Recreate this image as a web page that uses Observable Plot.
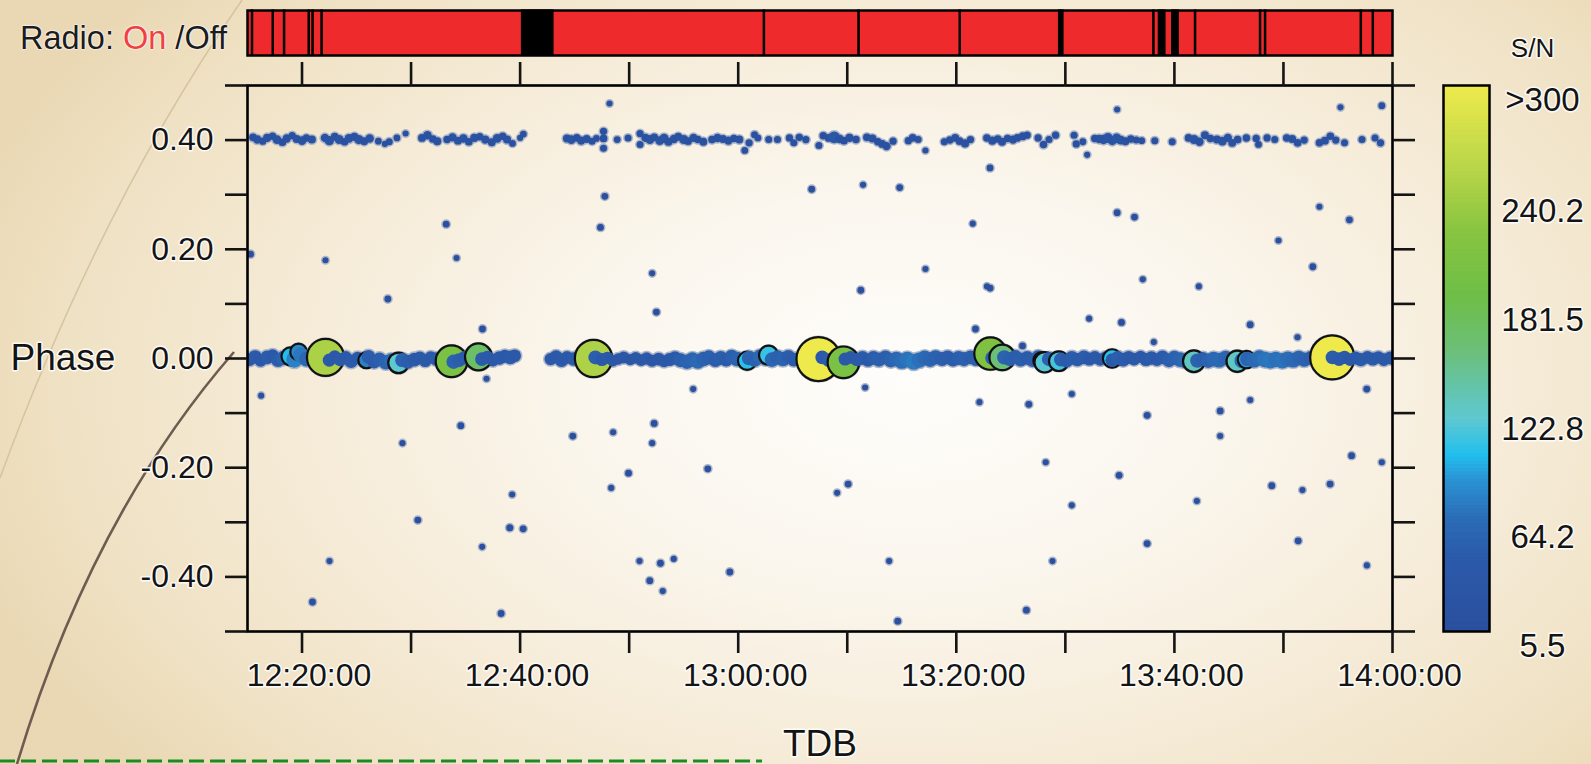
<!DOCTYPE html>
<html><head><meta charset="utf-8">
<script src="https://cdn.jsdelivr.net/npm/d3@7"></script>
<script src="https://cdn.jsdelivr.net/npm/@observablehq/plot@0.6"></script>
<style>
html,body{margin:0;padding:0;}
body{width:1591px;height:764px;overflow:hidden;position:relative;
 background: radial-gradient(ellipse 62% 80% at 57% 50%, #fefdfa 0%, #fbf7ef 30%, #f6ecd9 60%, #efe1c3 86%, #ead8b4 100%);
 font-family:"Liberation Sans", Arial, sans-serif;}
.layer{position:absolute;top:0;}
svg text{paint-order:stroke;stroke:rgba(255,255,255,0.85);stroke-width:3px;stroke-linejoin:round;}
#radioLabel{position:absolute;left:20px;top:20px;font-size:32.5px;line-height:37px;color:#1c1c1c;white-space:pre;
 text-shadow:0 0 2px #fff,0 0 2px #fff,0 0 1px #fff;}
#radioLabel span{color:#f04040;}
</style></head>
<body>
<svg class="layer" style="left:0" width="1591" height="764">
  <path d="M 242 0 Q 100 205 0 478" fill="none" stroke="#d6c39f" stroke-width="1.5"/>
  <path d="M 234 352 Q 92 515 17 764" fill="none" stroke="#6e5c50" stroke-width="2.6"/>
  <line x1="0" y1="761" x2="762" y2="761" stroke="#1d8b24" stroke-width="3.2" stroke-dasharray="15 6"/>
</svg>
<div id="radioLabel">Radio: <span>On</span> /Off</div>
<div id="radio" class="layer" style="left:0"></div>
<div id="main" class="layer" style="left:0"></div>
<div id="cbar" class="layer" style="left:1400px"></div>
<script>
// ---- data (time in minutes after 12:00 TDB, phase, S/N) ----
const radioSpan = [15, 120];
const radioOff = [[15.40,15.52],[17.30,17.42],[18.34,18.46],[20.60,20.72],[20.95,21.07],[21.78,21.90],
  [40.17,43.06],[62.34,62.46],[71.02,71.14],[80.30,80.42],[89.42,89.83],[98.06,98.18],[98.57,99.18],
  [99.79,100.40],[101.88,102.00],[107.84,107.96],[108.30,108.42],[117.08,117.20],[118.18,118.30]];

const upperBand = [
[15.5,0.405,14],[15.9,0.401,18],[16.4,0.398,12],[16.8,0.404,16],[17.3,0.407,13],[17.7,0.401,19],[18.2,0.396,14],[18.6,0.403,17],[19.1,0.408,12],[19.5,0.402,15],[20.0,0.399,18],[20.4,0.404,13],[20.9,0.401,16],
[22.1,0.404,17],[22.5,0.399,22],[23.0,0.406,15],[23.4,0.401,20],[23.9,0.397,14],[24.3,0.403,19],[24.8,0.406,16],[25.2,0.401,21],[25.7,0.398,15],[26.2,0.403,18],
[27.0,0.398,10],[27.6,0.393,9],[28.0,0.397,11],[28.7,0.404,10],[29.5,0.412,9],
[31.0,0.404,15],[31.5,0.409,18],[32.0,0.402,14],[32.4,0.398,16],
[33.3,0.401,13],[33.8,0.405,17],[34.3,0.399,15],[34.8,0.403,18],[35.3,0.397,14],[35.8,0.404,16],[36.3,0.406,13],[36.8,0.401,17],
[37.4,0.396,15],[37.9,0.403,19],[38.4,0.407,14],[38.8,0.401,16],
[39.3,0.394,10],[40.0,0.404,9],[40.3,0.411,10],
[44.3,0.403,16],[44.7,0.401,19],[45.2,0.404,14],[45.6,0.399,17],[46.1,0.402,15],[46.6,0.398,11],[47.0,0.403,10],[47.65,0.416,12],[47.65,0.403,14],[47.65,0.385,11],[48.9,0.401,10],[49.9,0.404,11],[51.0,0.412,12],[51.0,0.392,11],[51.5,0.404,17],[51.9,0.401,20],[52.3,0.405,15],[52.8,0.399,19],[53.2,0.403,22],[53.6,0.397,16],[54.1,0.402,18],[54.5,0.406,15],[55.0,0.401,20],[55.4,0.398,14],[55.9,0.404,17],[56.3,0.401,13],[56.8,0.397,15],
[57.6,0.401,14],[58.1,0.404,18],[58.6,0.402,15],[59.1,0.399,17],[59.6,0.403,13],[60.1,0.401,15],[60.6,0.381,10],
[61.0,0.395,12],[61.5,0.410,11],[61.8,0.404,10],[62.8,0.401,11],[63.6,0.401,11],
[64.7,0.404,12],[65.1,0.395,11],[65.6,0.405,13],[66.2,0.401,12],
[67.4,0.390,11],[67.8,0.408,13],[68.3,0.404,15],[68.8,0.405,35],[69.3,0.402,18],[69.7,0.399,14],[70.2,0.404,16],[70.8,0.401,13],
[71.8,0.405,14],[72.3,0.403,16],[72.8,0.397,13],[73.2,0.393,15],[73.6,0.389,17],[74.2,0.398,12],
[75.6,0.399,12],[76.0,0.404,14],[76.5,0.401,11],[77.17,0.381,9],
[78.9,0.397,11],[79.4,0.400,13],[79.9,0.404,15],[80.3,0.398,14],[80.8,0.394,16],[81.3,0.401,12],
[82.8,0.404,13],[83.3,0.399,16],[83.8,0.402,14],[84.2,0.397,15],[84.7,0.403,13],[85.2,0.401,17],[85.6,0.404,14],[86.1,0.407,16],[86.5,0.409,12],
[87.5,0.404,12],[88.0,0.392,13],[88.5,0.401,11],[89.1,0.409,12],
[90.8,0.409,11],[91.0,0.393,12],[91.6,0.397,10],[92.0,0.373,9],
[92.7,0.403,13],[93.1,0.402,18],[93.5,0.401,22],[93.9,0.404,25],[94.3,0.399,20],[94.7,0.403,24],[95.1,0.400,19],[95.5,0.398,16],[96.0,0.402,14],[96.5,0.400,11],[97.0,0.399,10],[98.2,0.399,11],
[99.8,0.397,11],
[101.3,0.404,14],[101.8,0.401,20],[102.3,0.397,17],[102.8,0.409,15],[103.3,0.403,13],
[103.9,0.401,16],[104.4,0.398,19],[104.9,0.404,17],[105.3,0.395,15],[105.8,0.401,14],[106.6,0.404,13],
[107.5,0.403,12],[107.71,0.392,10],[108.5,0.404,12],[109.2,0.401,11],
[110.3,0.404,13],[110.8,0.402,15],[111.3,0.395,14],[111.9,0.400,12],
[113.3,0.395,13],[113.8,0.399,15],[114.3,0.407,14],[114.8,0.400,12],[115.6,0.395,11],
[117.2,0.401,11],[118.4,0.404,11],[118.9,0.395,12]];

const mainBand = [
[15.2,-0.002,40],[15.7,0.003,44],[16.2,-0.004,38],[16.8,0.002,46],[17.3,0.005,42],[17.8,-0.003,48],[18.3,0.001,55],[18.8,0.004,68],[19.3,-0.002,78],[19.9,0.006,72],
[20.4,-0.001,60],[20.9,0.003,52],[21.4,-0.004,45],[21.9,0.001,40],[22.5,-0.003,42],[23.0,0.004,38],[23.5,-0.002,44],[24.0,0.002,40],[24.5,-0.005,46],[25.1,0.001,39],
[25.6,-0.003,42],[26.1,0.003,48],[26.6,-0.006,44],[27.1,-0.002,50],[27.7,-0.007,56],[28.2,-0.004,62],[28.7,-0.008,58],[29.2,-0.003,54],[29.7,-0.006,48],[30.3,-0.002,45],
[30.8,0.001,42],[31.3,-0.004,40],[31.8,0.002,38],[32.3,-0.001,44],[32.9,-0.005,48],[33.4,-0.002,52],[33.9,-0.006,55],[34.4,-0.003,50],[34.9,0.001,46],[35.5,-0.002,48],
[36.0,0.003,52],[36.5,-0.001,47],[37.0,0.002,44],[37.5,-0.003,40],[38.1,0.001,45],[38.6,0.004,42],[39.1,0.002,46],[39.5,0.005,40],
[42.8,-0.001,38],[43.3,0.003,42],[43.8,-0.003,45],[44.3,0.002,40],[44.9,-0.001,44],[45.4,0.004,39],[45.9,0.001,43],[46.4,-0.003,47],[46.9,0.002,50],[47.5,-0.002,42],
[48.0,0.001,38],[48.5,-0.004,35],[49.0,-0.001,33],[49.5,0.002,36],[50.1,-0.002,32],[50.6,0.001,35],[51.1,-0.003,34],[51.6,0.000,38],[52.1,-0.004,36],[52.7,-0.001,40],
[53.2,-0.005,37],[53.7,-0.002,42],[54.2,0.001,45],[54.7,-0.003,50],[55.3,-0.006,55],[55.8,-0.002,58],[56.3,-0.005,62],[56.8,-0.001,56],[57.3,0.002,52],[57.9,-0.003,48],
[58.4,0.001,50],[58.9,-0.002,46],[59.4,0.003,52],[59.9,-0.001,55],[60.5,-0.004,60],[61.0,0.001,58],[61.5,-0.002,54],[62.0,0.003,60],[62.5,0.001,64],[63.1,-0.002,58],
[63.6,0.002,52],[64.1,-0.001,55],[64.6,0.003,48],[65.1,-0.002,45],[65.7,0.001,50],[66.2,-0.003,47],[66.7,0.002,44],[67.2,-0.001,42],[67.7,0.002,45],[68.3,-0.003,48],
[68.8,0.001,44],[69.3,-0.004,46],[69.8,-0.001,42],[70.3,0.002,40],[70.9,-0.002,44],[71.4,0.001,46],[71.9,-0.003,43],[72.4,0.001,48],[72.9,-0.002,52],[73.5,0.002,50],
[74.0,-0.003,56],[74.5,-0.001,60],[75.0,-0.005,66],[75.5,-0.002,70],[76.1,-0.006,74],[76.6,-0.003,68],[77.1,0.001,62],[77.6,-0.002,58],[78.1,0.002,54],[78.7,-0.001,50],
[79.2,0.002,48],[79.7,-0.002,46],[80.2,0.001,50],[80.7,-0.001,52],[81.3,0.002,48],[81.8,-0.001,50],[82.3,0.002,54],[82.8,-0.002,56],[83.3,0.001,52],[83.9,-0.003,58],
[84.4,0.002,55],[84.9,-0.001,52],[85.4,0.003,48],[85.9,-0.002,50],[86.5,0.001,46],[87.0,-0.003,48],[87.5,0.002,52],[88.0,-0.004,50],[88.5,-0.001,54],[89.1,-0.005,52],
[89.6,-0.002,50],[90.1,-0.004,46],[90.6,0.001,48],[91.1,-0.002,44],[91.7,0.002,46],[92.2,-0.001,42],[92.7,0.002,40],[93.2,-0.002,38],[93.7,0.001,42],[94.3,-0.003,45],
[94.8,0.001,50],[95.3,-0.002,46],[95.8,0.002,42],[96.3,-0.001,40],[96.9,0.003,38],[97.4,-0.002,42],[97.9,0.001,44],[98.4,-0.002,40],[98.9,0.002,46],[99.5,-0.003,50],
[100.0,0.001,54],[100.5,-0.002,58],[101.0,-0.004,62],[101.5,-0.001,58],[102.1,-0.004,54],[102.6,-0.001,50],[103.1,-0.004,56],[103.6,-0.001,60],[104.1,-0.003,62],[104.7,0.001,58],
[105.2,-0.003,55],[105.7,-0.001,60],[106.2,-0.004,64],[106.7,-0.001,58],[107.3,-0.003,62],[107.8,0.001,66],[108.3,-0.002,70],[108.8,-0.004,72],[109.3,-0.002,68],[109.9,-0.004,70],
[110.4,-0.001,66],[110.9,-0.003,62],[111.4,0.001,58],[111.9,-0.002,54],[112.5,0.001,50],[113.0,-0.002,48],[113.5,0.001,46],[114.0,-0.001,44],[114.5,0.002,48],[115.1,-0.001,46],
[115.6,0.002,44],[116.1,-0.002,40],[116.6,0.001,42],[117.1,-0.002,44],[117.7,0.002,40],[118.2,-0.001,42],[118.7,0.002,38],[119.2,-0.002,40],[119.8,0.001,42]];

const strongPulses = [
[18.94,0.004,100],[19.68,0.012,82],[22.15,0.002,246],[25.91,-0.003,78],[28.85,-0.008,120],[33.71,-0.005,205],
[36.18,0.003,168],[46.73,0.000,248],[60.82,-0.004,103],[62.78,0.006,108],[67.36,-0.001,330],[69.65,-0.007,205],
[83.13,0.009,210],[84.21,0.002,158],[87.85,-0.004,90],[88.10,-0.007,118],[89.40,-0.005,112],[94.29,0.000,104],
[101.78,-0.005,128],[105.76,-0.005,126],[106.61,-0.002,92],[114.47,0.002,330]];

const scatterPoints = [
[15.28,0.191,10],[22.15,0.180,9],[33.22,0.246,10],[34.17,0.184,9],[27.87,0.109,10],[16.25,-0.068,9],[34.56,-0.123,10],[29.21,-0.155,9],
[30.62,-0.296,10],[22.52,-0.371,9],[20.96,-0.446,10],[36.55,0.054,10],[36.92,-0.037,9],[48.20,0.467,9],[47.77,0.297,10],[47.37,0.240,10],
[52.11,0.156,9],[52.50,0.085,10],[55.87,-0.056,9],[44.83,-0.142,10],[48.53,-0.135,9],[52.29,-0.119,10],[52.11,-0.155,9],[49.94,-0.210,10],
[48.35,-0.237,9],[57.21,-0.202,10],[39.27,-0.249,9],[39.05,-0.310,11],[40.28,-0.312,10],[36.52,-0.345,9],[38.26,-0.467,10],[50.95,-0.371,9],
[52.87,-0.375,10],[54.09,-0.367,9],[51.89,-0.407,10],[53.08,-0.426,9],[66.74,0.310,10],[71.45,0.318,9],[74.81,0.313,10],[77.17,0.164,9],
[71.24,0.125,10],[71.64,-0.053,9],[70.08,-0.230,10],[69.07,-0.246,9],[59.23,-0.391,10],[73.84,-0.371,9],[74.63,-0.481,10],[94.75,0.456,9],
[83.09,0.349,10],[81.51,0.247,9],[94.75,0.267,10],[96.34,0.259,10],[82.81,0.132,9],[83.10,0.129,10],[97.10,0.145,9],[81.76,0.054,10],
[92.18,0.073,9],[95.15,0.066,10],[98.11,0.030,9],[86.07,0.023,10],[82.12,-0.080,9],[86.65,-0.084,10],[90.59,-0.065,9],[97.50,-0.104,10],
[88.20,-0.190,9],[94.93,-0.214,10],[90.59,-0.269,9],[97.50,-0.339,10],[88.82,-0.371,9],[86.43,-0.461,10],[115.23,0.460,9],[119.02,0.463,10],
[113.30,0.278,9],[116.05,0.254,10],[109.54,0.216,9],[112.69,0.168,10],[102.24,0.132,9],[106.95,0.062,10],[111.29,0.039,9],[117.64,-0.056,10],
[106.95,-0.076,9],[104.20,-0.096,10],[104.20,-0.142,9],[116.25,-0.178,10],[119.02,-0.190,9],[108.93,-0.233,10],[111.74,-0.241,9],[114.28,-0.230,10],
[102.06,-0.261,9],[111.35,-0.334,10],[117.65,-0.379,9]];

const yTicks = [-0.5,-0.4,-0.3,-0.2,-0.1,0,0.1,0.2,0.3,0.4,0.5];
const yLabelTicks = [-0.4,-0.2,0,0.2,0.4];
const xTicks = [20,30,40,50,60,70,80,90,100,110,120];
const xLabelTicks = [20,40,60,80,100,120];
const xTickLabels = ["12:20:00","12:40:00","13:00:00","13:20:00","13:40:00","14:00:00"];
const snStops  = [5.5, 45, 66, 86.8, 101, 120, 138, 157, 186, 220, 252, 300];
const snColors = ["#2a4f9e","#2b5aaa","#2b6cb6","#2a92d2","#22bfee","#5ec8d0","#64c4a8","#6cbf78","#6ebe48","#86c440","#b4d448","#eeea4c"];
const sizeStops = [0, 10, 20, 45, 100, 300];
const sizeRadii = [0, 3.4, 4.5, 6.8, 9, 22];
const cbTickValues = [5.5, 64.2, 122.8, 181.5, 240.2, 300];
const cbTickLabels = ["5.5","64.2","122.8","181.5","240.2",">300"];

// ---- build ----
const FONT = '"Liberation Sans", Arial, sans-serif';
const colorOpts = {type:"linear", domain: snStops, range: snColors, clamp: true, interpolate: "rgb"};
const rows = [];
for (const [t,p,s] of upperBand) rows.push({t,p,s,so:0,sw:0});
for (const [t,p,s] of mainBand) rows.push({t,p,s,so:0,sw:0});
for (const [t,p,s] of scatterPoints) rows.push({t,p,s,so:0,sw:0});
for (const [t,p,s] of strongPulses) rows.push({t,p,s,so:1,sw:2.2});
rows.sort((a,b)=>a.t-b.t);

const baseStyle = {background:"transparent", overflow:"visible", fontFamily: FONT, fontSize:"32px", color:"#141414"};

const radio = Plot.plot({
  width:1591, height:62, marginLeft:247, marginRight:199, marginTop:10, marginBottom:7,
  x:{domain:[15,120], axis:null},
  style: baseStyle,
  marks:[
    Plot.rect([radioSpan], {x1:d=>d[0], x2:d=>d[1], fill:"#ee2a2c"}),
    Plot.rect(radioOff, {x1:d=>d[0], x2:d=>d[1], fill:"black", stroke:"black", strokeWidth:1.2}),
    Plot.frame({stroke:"black", strokeWidth:2.5})
  ]
});
document.getElementById("radio").append(radio);

const main = Plot.plot({
  width:1591, height:764, marginLeft:247, marginRight:199, marginTop:85, marginBottom:133,
  x:{domain:[15,120]},
  y:{domain:[-0.5,0.5]},
  color: colorOpts,
  r:{type:"linear", domain:sizeStops, range:sizeRadii, clamp:true},
  opacity:{type:"linear", domain:[0,1], range:[0,1]},
  style: baseStyle,
  marks:[
    Plot.dot(rows, {x:"t", y:"p", r:"s", fill:"none", stroke:"#aeb6c8", strokeWidth:3, sort:null, clip:true}),
    Plot.dot(rows, {x:"t", y:"p", r:"s", fill:"s", stroke:"#111", strokeOpacity:"so", strokeWidth:"sw", sort:null, clip:true}),
    Plot.frame({stroke:"black", strokeWidth:2.6}),
    Plot.axisY({anchor:"left", ticks:yTicks, tickSize:22, tickPadding:12, strokeWidth:2.6, label:null,
      tickFormat: d => yLabelTicks.some(v => Math.abs(v-d)<1e-9) ? d.toFixed(2) : ""}),
    Plot.axisY({anchor:"right", ticks:yTicks, tickSize:22, strokeWidth:2.6, label:null, tickFormat: () => ""}),
    Plot.axisX({anchor:"bottom", ticks:xTicks, tickSize:22, strokeWidth:2.6, label:null, tickFormat: () => ""}),
    Plot.text(xLabelTicks, {x:d=>d, text:(d,i)=>xTickLabels[i], frameAnchor:"bottom", lineAnchor:"middle", dy:44, dx:7}),
    Plot.axisX({anchor:"top", ticks:xTicks, tickSize:24, strokeWidth:2.6, label:null, tickFormat: () => ""}),
    Plot.text(["Phase"], {frameAnchor:"left", dx:-237, textAnchor:"start", lineAnchor:"middle", fontSize:37, text:d=>d}),
    Plot.text(["TDB"], {frameAnchor:"bottom", dy:113, lineAnchor:"middle", fontSize:37, text:d=>d})
  ]
});
document.getElementById("main").append(main);

const ramp = d3.range(5.5, 300, 2).map(v => [v, Math.min(v + 2.4, 300)]);
const cbar = Plot.plot({
  width:191, height:764, marginLeft:43, marginRight:102, marginTop:85, marginBottom:133,
  x:{domain:[0,1], axis:null},
  y:{domain:[5.5,300], axis:null},
  color: colorOpts,
  style: baseStyle,
  marks:[
    Plot.rect(ramp, {x1:0, x2:1, y1:d=>d[0], y2:d=>d[1], fill:d=>(d[0]+d[1])/2}),
    Plot.frame({stroke:"black", strokeWidth:2.5}),
    Plot.text(cbTickValues, {x:1, y:d=>d, text:(d,i)=>cbTickLabels[i], dx:53, dy:15, textAnchor:"middle", lineAnchor:"middle", fontSize:33}),
    Plot.text(["S/N"], {frameAnchor:"top", dx:66, dy:-37, lineAnchor:"middle", fontSize:26, text:d=>d})
  ]
});
document.getElementById("cbar").append(cbar);
</script>
</body></html>
